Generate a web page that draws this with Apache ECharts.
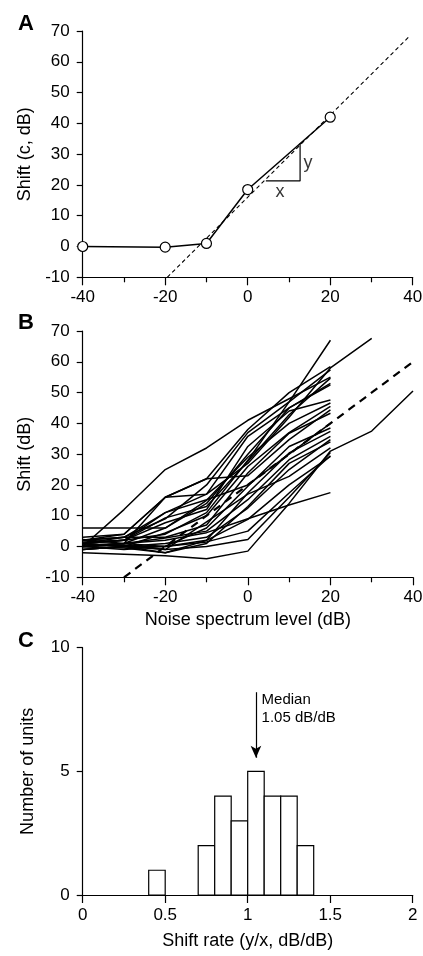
<!DOCTYPE html>
<html><head><meta charset="utf-8">
<script src="https://cdn.jsdelivr.net/npm/echarts/dist/echarts.min.js"></script>
<style>html,body{margin:0;padding:0;background:#fff}#c{width:423px;height:956px}</style>
</head><body><div id="c"></div>
<script>
// ---- Panel A data ----
const aLevels = [-40, -20, -10, 0, 20];
const aShift = [0, -0.2, 1, 18.5, 42];
const aFitX = [-19.5, 39];
const aFitY = [-10, 68];
const triX = [4.4, 12.7, 12.7];
const triY = [21.3, 21.3, 33.5];

// ---- Panel B data ----
const bLevels = [-40, -30, -20, -10, 0, 10, 20, 30, 40];
const bCurves = [
  [0, 12, 25, 32, 41, 48, 55],
  [6, 6, 6, 14, 30, 45, 53],
  [2, 4, 16, 17, 27, 42, 58, 67.6],
  [1, 3, 9, 20, 37, 47, 57.4],
  [1, 2, 4, 11, 28, 47, 67],
  [-2, -2.5, -3, -4, -1.5, 14, 31, 37.5, 50.5],
  [0, 1, 2, 4.5, 9, 13.5, 17.5],
  [1, 0, -1, 0, 2.3, 16, 30.5],
  [2, 3, 11, 17, 35.8, 45, 52.5],
  [1, 2, 7.7, 12, 32.5, 44, 47.6],
  [0, 1, 6, 15, 29, 40, 46.6],
  [-1, 0, 4.4, 10, 26, 37, 45.5],
  [2, 3, 3, 7, 23.9, 36.8, 43.3],
  [0, -1, 0.1, 6, 19.6, 32.5, 38.5],
  [1, 0, -2, 2, 17.4, 30.4, 37.4],
  [0.5, 1, 2.8, 5, 15.2, 28.2, 35.8],
  [-1, 0, 1, 3, 12.5, 25, 34.7],
  [0, 0.5, -1, 8, 17, 22.8, 32],
  [2.3, 1, 0, 2, 8.8, 20, 29.3],
  [1, 2, 11, 15.2, 20, 30, 40],
  [0, 1, 16, 22, 23, 34.7, 44.4],
  [1.5, 2, 9.3, 13, 27.7, 42.8, 54.7],
  [-1, 0, 0, 1.5, 5, 17.4, 29.5],
  [0, -0.5, -2, 1, 13, 27, 34],
  [3, 4, 16, 22, 38, 50, 58.4]
];
const refX = [-30, 40];
const refY = [-10, 60];

// ---- Panel C data ----
const binStart = [0.4, 0.7, 0.8, 0.9, 1.0, 1.1, 1.2, 1.3];
const binWidth = 0.1;
const counts = [1, 2, 4, 3, 5, 4, 4, 2];
const medianRate = 1.05;
const arrowFrom = 8.2, arrowTo = 5.55;

const FONT = 'Liberation Sans, Arial, Helvetica, sans-serif';
const BLACK = '#000';
const chart = echarts.init(document.getElementById('c'), null, {renderer: 'canvas'});

function xAx(grid, min, max, interval, minor, name, nameGap) {
  return {
    type: 'value', gridIndex: grid, min, max, interval,
    axisLine: {show: true, onZero: false, lineStyle: {color: BLACK, width: 1.2}},
    axisTick: {show: true, length: 8, lineStyle: {color: BLACK, width: 1.2}},
    minorTick: {show: minor, splitNumber: 2, length: 5, lineStyle: {color: BLACK, width: 1.2}},
    splitLine: {show: false}, minorSplitLine: {show: false},
    axisLabel: {color: BLACK, fontSize: 17, fontFamily: FONT, margin: 12, hideOverlap: false},
    name: name || '', nameLocation: 'middle', nameGap: nameGap || 30,
    nameTextStyle: {color: BLACK, fontSize: 18, fontFamily: FONT}
  };
}
function yAx(grid, min, max, interval, name) {
  return {
    type: 'value', gridIndex: grid, min, max, interval,
    axisLine: {show: true, onZero: false, lineStyle: {color: BLACK, width: 1.2}},
    axisTick: {show: true, length: 6, lineStyle: {color: BLACK, width: 1.2}},
    splitLine: {show: false},
    axisLabel: {color: BLACK, fontSize: 17, fontFamily: FONT, margin: 13, hideOverlap: false},
    name, nameLocation: 'middle', nameGap: 46,
    nameTextStyle: {color: BLACK, fontSize: 18, fontFamily: FONT}
  };
}

const series = [];
// Panel A fit line (dotted)
series.push({type: 'line', xAxisIndex: 0, yAxisIndex: 0, symbol: 'none', silent: true,
  data: aFitX.map((x, i) => [x, aFitY[i]]),
  lineStyle: {color: BLACK, width: 1.1, type: [4, 3]}, z: 2});
// slope triangle
series.push({type: 'line', xAxisIndex: 0, yAxisIndex: 0, symbol: 'none', silent: true,
  data: triX.map((x, i) => [x, triY[i]]),
  lineStyle: {color: BLACK, width: 1.2}, z: 2});
// data line A
series.push({type: 'line', xAxisIndex: 0, yAxisIndex: 0, symbol: 'circle', symbolSize: 10,
  clip: false, silent: true,
  data: aLevels.map((x, i) => [x, aShift[i]]),
  lineStyle: {color: BLACK, width: 1.5},
  itemStyle: {color: '#fff', borderColor: BLACK, borderWidth: 1.2}, z: 5});
// x / y annotations
series.push({type: 'scatter', xAxisIndex: 0, yAxisIndex: 0, symbolSize: 1, silent: true,
  itemStyle: {color: 'transparent'},
  data: [
    {value: [14.6, 27.1], label: {formatter: 'y'}},
    {value: [7.85, 17.6], label: {formatter: 'x'}}
  ],
  label: {show: true, position: 'inside', color: BLACK, fontSize: 18, fontFamily: FONT}});

// Panel B curves
bCurves.forEach(c => {
  series.push({type: 'line', xAxisIndex: 1, yAxisIndex: 1, symbol: 'none', silent: true,
    data: c.map((v, i) => [bLevels[i], v]),
    lineStyle: {color: BLACK, width: 1.5}, z: 2});
});
series.push({type: 'line', xAxisIndex: 1, yAxisIndex: 1, symbol: 'none', silent: true,
  data: refX.map((x, i) => [x, refY[i]]),
  lineStyle: {color: BLACK, width: 2.2, type: [8, 6]}, z: 3});

// Panel C histogram
series.push({type: 'custom', xAxisIndex: 2, yAxisIndex: 2, silent: true,
  data: binStart.map((s, i) => [s, s + binWidth, counts[i]]),
  encode: {x: [0, 1], y: 2},
  renderItem: function (params, api) {
    const p0 = api.coord([api.value(0), api.value(2)]);
    const p1 = api.coord([api.value(1), 0]);
    return {type: 'rect', shape: {x: p0[0], y: p0[1], width: p1[0] - p0[0], height: p1[1] - p0[1]},
      style: {fill: '#fff', stroke: BLACK, lineWidth: 1.2}};
  }, z: 2});
// median arrow and label
series.push({type: 'scatter', xAxisIndex: 2, yAxisIndex: 2, symbolSize: 1, silent: true,
  itemStyle: {color: 'transparent'},
  data: [[medianRate + 0.037, 7.52]],
  label: {show: true, position: [0, 0], align: 'left', verticalAlign: 'middle',
    formatter: 'Median\n' + medianRate.toFixed(2) + ' dB/dB',
    color: '#000', fontSize: 15, lineHeight: 18, fontFamily: FONT, opacity: 1},
  markLine: {silent: true, symbol: ['none', 'arrow'], symbolSize: [8, 12],
    label: {show: false},
    lineStyle: {color: BLACK, width: 1.2, type: 'solid'},
    data: [[{coord: [medianRate, arrowFrom]}, {coord: [medianRate, arrowTo]}]]}});

const option = {
  animation: false,
  backgroundColor: '#fff',
  textStyle: {fontFamily: FONT, color: BLACK},
  title: [
    {text: 'A', left: 13, top: 8, textStyle: {fontSize: 22, fontWeight: 'bold', color: BLACK, fontFamily: FONT}},
    {text: 'B', left: 13, top: 307, textStyle: {fontSize: 22, fontWeight: 'bold', color: BLACK, fontFamily: FONT}},
    {text: 'C', left: 13, top: 625, textStyle: {fontSize: 22, fontWeight: 'bold', color: BLACK, fontFamily: FONT}}
  ],
  grid: [
    {left: 82.7, top: 31, width: 330, height: 246.3, outerBoundsMode: 'none', containLabel: false},
    {left: 82.7, top: 331, width: 330.3, height: 246.3, outerBoundsMode: 'none', containLabel: false},
    {left: 82.7, top: 647.7, width: 330, height: 247.3, outerBoundsMode: 'none', containLabel: false}
  ],
  xAxis: [
    xAx(0, -40, 40, 20, true),
    xAx(1, -40, 40, 20, true, 'Noise spectrum level (dB)', 34),
    xAx(2, 0, 2, 0.5, false, 'Shift rate (y/x, dB/dB)', 37)
  ],
  yAxis: [
    yAx(0, -10, 70, 10, 'Shift (c, dB)'),
    yAx(1, -10, 70, 10, 'Shift (dB)'),
    yAx(2, 0, 10, 5, 'Number of units')
  ],
  series
};
chart.setOption(option);
</script></body></html>
